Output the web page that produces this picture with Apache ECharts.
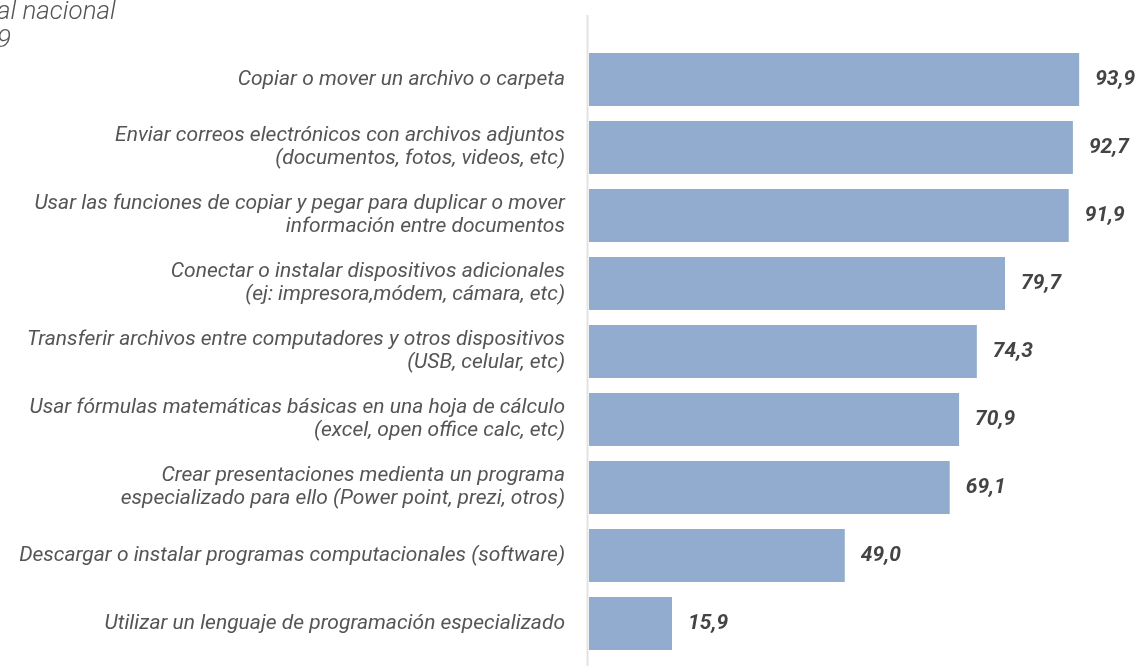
<!DOCTYPE html>
<html>
<head>
<meta charset="utf-8">
<script src="https://cdn.jsdelivr.net/npm/echarts@6/dist/echarts.min.js"></script>
<style>
  html, body { margin: 0; padding: 0; background: #fff; }
  #chart { width: 1138px; height: 666px; }
</style>
</head>
<body>
<div id="chart"></div>
<script>
const categories = [
  'Copiar o mover un archivo o carpeta',
  'Enviar correos electrónicos con archivos adjuntos\n(documentos, fotos, videos, etc)',
  'Usar las funciones de copiar y pegar para duplicar o mover\ninformación entre documentos',
  'Conectar o instalar dispositivos adicionales\n(ej: impresora,módem, cámara, etc)',
  'Transferir archivos entre computadores y otros dispositivos\n(USB, celular, etc)',
  'Usar fórmulas matemáticas básicas en una hoja de cálculo\n(excel, open office calc, etc)',
  'Crear presentaciones medienta un programa\nespecializado para ello (Power point, prezi, otros)',
  'Descargar o instalar programas computacionales (software)',
  'Utilizar un lenguaje de programación especializado'
]
const values = [93.9, 92.7, 91.9, 79.7, 74.3, 70.9, 69.1, 49.0, 15.9]
const titleLines = ['al nacional', '9']

const myChart = echarts.init(document.getElementById('chart'))
myChart.setOption({
  animation: false,
  textStyle: { fontFamily: 'Roboto' },
  grid: {
    left: 589,
    right: 27,
    top: 45.5,
    bottom: 8.5,
  },
  graphic: [
    {
      type: 'line',
      shape: { x1: 587.5, y1: 15, x2: 587.5, y2: 666 },
      style: { stroke: '#e3e3e3', lineWidth: 2 },
    },
    {
      type: 'text',
      left: -3,
      top: -2,
      style: {
        text: titleLines.join('\n'),
        font: 'italic 300 26px Roboto',
        fill: '#555',
        lineHeight: 28,
      },
    },
  ],
  xAxis: {
    type: 'value',
    min: 0,
    max: 100,
    show: false,
  },
  yAxis: {
    type: 'category',
    inverse: true,
    data: categories,
    axisLine: { show: false },
    axisTick: { show: false },
    axisLabel: {
      margin: 24,
      fontSize: 21,
      fontStyle: 'italic',
      color: '#555',
      lineHeight: 23,
      align: 'right',
      padding: [0, 0, 7, 0],
    },
  },
  series: [
    {
      type: 'bar',
      data: values,
      barWidth: 53,
      itemStyle: { color: '#91acce' },
      label: {
        show: true,
        position: 'right',
        distance: 16,
        fontSize: 21,
        fontStyle: 'italic',
        fontWeight: 'bold',
        color: '#444',
        padding: [0, 0, 3, 0],
        formatter: (p) => p.value.toFixed(1).replace('.', ','),
      },
    },
  ],
})
</script>
</body>
</html>
